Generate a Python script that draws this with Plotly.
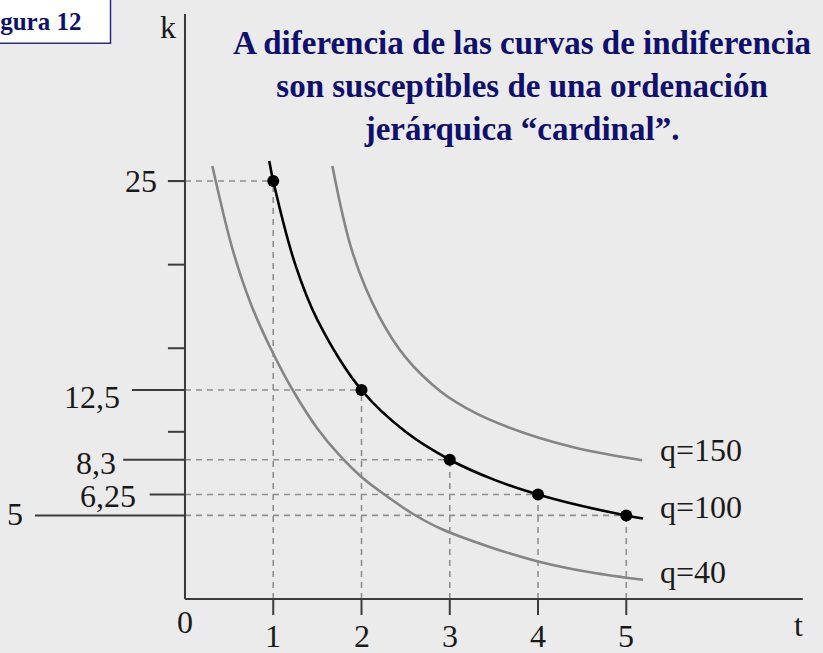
import plotly.graph_objects as go

# curva q=100 (negra) y sus puntos
q100_t = [0.955, 1, 1.25, 1.5, 2, 2.5, 3, 3.5, 4, 4.5, 5, 5.19]
q100_k = [26.2, 25, 20, 16.7, 12.5, 10, 8.33, 7.14, 6.25, 5.56, 5, 4.82]
pts_t = [1, 2, 3, 4, 5]
pts_k = [25, 12.5, 8.33, 6.25, 5]

# curvas grises
q150_t = [1.67, 1.9, 2.2, 2.5, 2.9, 3.3, 3.65, 4.0, 4.4, 4.8, 5.18]
q150_k = [25.9, 20.7, 16.9, 14.45, 12.4, 11.1, 10.3, 9.66, 9.08, 8.64, 8.3]
q40_t = [0.31, 0.54, 0.75, 0.97, 1.22, 1.5, 1.75, 2.0, 2.3, 2.58, 2.9, 3.46, 4.0, 4.59, 5.19]
q40_k = [25.9, 20.9, 17.6, 15.0, 12.5, 10.2, 8.6, 7.3, 6.1, 5.1, 4.2, 3.1, 2.25, 1.6, 1.15]

x_ticks = [1, 2, 3, 4, 5]
y_minor = [25, 20, 15, 10]
y_labels = ["25", "12,5", "8,3", "6,25", "5"]
y_label_vals = [25, 12.5, 8.33, 6.25, 5]
curve_labels = ["q=150", "q=100", "q=40"]

navy = "#0f0f6e"
gray = "#858585"
axis_col = "#3c3c3c"
txt_col = "#1a1a1a"
serif = "Liberation Serif, Times New Roman, serif"

fig = go.Figure()

# líneas guía punteadas
gx, gy = [], []
for t, k in zip(pts_t, pts_k):
    gx += [0, t, None, t, t, None]
    gy += [k, k, None, 0, k, None]
fig.add_trace(go.Scatter(x=gx, y=gy, mode="lines",
                         line=dict(color="#8f8f8f", width=1.6, dash="6px,5px")))

# ejes
fig.add_trace(go.Scatter(x=[0, 0, None, 0, 7.0], y=[35.0, 0, None, 0, 0], mode="lines",
                         line=dict(color=axis_col, width=2)))

# marcas eje t
tx, ty = [], []
for t in x_ticks:
    tx += [t, t, None]
    ty += [0, -0.96, None]
# marcas cortas eje k
for k in y_minor:
    tx += [-0.193, 0, None]
    ty += [k, k, None]
# líneas largas de etiquetas
label_line_start = [-0.193, -0.60, -0.70, -0.40, -1.70]
for x0, k in zip(label_line_start, y_label_vals):
    tx += [x0, 0, None]
    ty += [k, k, None]
fig.add_trace(go.Scatter(x=tx, y=ty, mode="lines", line=dict(color=axis_col, width=2)))

# curvas
fig.add_trace(go.Scatter(x=q40_t, y=q40_k, mode="lines", line=dict(color=gray, width=2.6, shape="spline")))
fig.add_trace(go.Scatter(x=q150_t, y=q150_k, mode="lines", line=dict(color=gray, width=2.6, shape="spline")))
fig.add_trace(go.Scatter(x=q100_t, y=q100_k, mode="lines", line=dict(color="black", width=2.6, shape="spline")))
fig.add_trace(go.Scatter(x=pts_t, y=pts_k, mode="markers", marker=dict(color="black", size=12)))

ann = []
lab_x = [-0.295, -0.714, -0.76, -0.53, -1.813]
lab_y = [25, 12.1, 8.13, 6.16, 5.08]
for txt, x, y in zip(y_labels, lab_x, lab_y):
    ann.append(dict(x=x, y=y, text=txt, xanchor="right", yanchor="middle", showarrow=False,
                    font=dict(family=serif, size=32, color=txt_col)))
for t in x_ticks:
    ann.append(dict(x=t, y=-2.2, text=str(t), showarrow=False, yanchor="middle",
                    font=dict(family=serif, size=32, color=txt_col)))
ann.append(dict(x=0, y=-1.4, text="0", showarrow=False, font=dict(family=serif, size=32, color=txt_col)))
ann.append(dict(x=6.95, y=-1.55, text="t", showarrow=False, font=dict(family=serif, size=32, color=txt_col)))
ann.append(dict(x=-0.19, y=34.2, text="k", showarrow=False, font=dict(family=serif, size=32, color=txt_col)))
for txt, y in zip(curve_labels, [8.9, 5.5, 1.6]):
    ann.append(dict(x=5.36, y=y, text=txt, xanchor="left", showarrow=False,
                    font=dict(family=serif, size=32, color=txt_col)))
ann.append(dict(x=3.82, y=30.68, showarrow=False,
                text="A diferencia de las curvas de indiferencia<br>son susceptibles de una ordenación<br>jerárquica “cardinal”.",
                font=dict(family=serif, size=33, color=navy, weight="bold")))
ann.append(dict(x=-1.156, y=34.55, text="Figura 12", xanchor="right", showarrow=False,
                font=dict(family=serif, size=25, color=navy, weight="bold")))

fig.update_layout(
    width=823, height=653,
    margin=dict(l=0, r=0, t=0, b=0),
    paper_bgcolor="#ebebeb", plot_bgcolor="#ebebeb",
    showlegend=False,
    xaxis=dict(range=[-2.096, 7.229], visible=False),
    yaxis=dict(range=[-3.23, 35.83], visible=False),
    annotations=ann,
    shapes=[dict(type="rect", x0=-2.3, x1=-0.844, y0=33.25, y1=36.5,
                 fillcolor="white", line=dict(color="#2b2b8c", width=1.5), layer="below")],
)

fig.write_html("out.html", config={"displayModeBar": False},
               post_script="document.body.style.margin='0';")
